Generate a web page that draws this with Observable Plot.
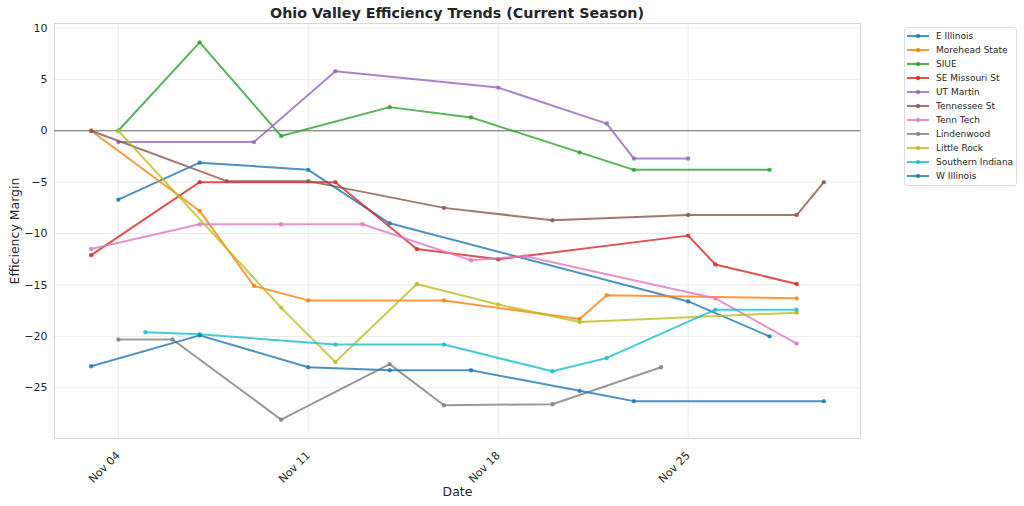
<!DOCTYPE html>
<html>
<head>
<meta charset="utf-8">
<script src="https://cdn.jsdelivr.net/npm/d3@7"></script>
<script src="https://cdn.jsdelivr.net/npm/@observablehq/plot@0.6"></script>
<style>
  body { margin: 0; background: #fff; font-family: "DejaVu Sans", sans-serif; }
  #wrap { position: relative; width: 1024px; height: 506px; }
  #title { position: absolute; left: 54px; width: 806px; top: 5px; text-align: center; font-weight: bold; font-size: 14.3px; color: #262626; }
  #legend { position: absolute; left: 904px; top: 27px; width: 111px; border: 1px solid #dcdcdc; border-radius: 3px; padding: 1px 0 2px 0; background: #fff; }
  .item { height: 14px; display: flex; align-items: center; font-size: 9px; color: #262626; white-space: nowrap; }
  .item svg { margin-left: 2px; margin-right: 7px; }
  g[aria-label="x-axis label"] text, g[aria-label="y-axis label"] text { font-size: 12.5px; }
</style>
</head>
<body>
<div id="wrap">
  <div id="title">Ohio Valley Efficiency Trends (Current Season)</div>
  <div id="chart"></div>
  <div id="legend"></div>
</div>
<script>
// Teams and colours (matplotlib tab10 cycle)
const teams = ["E Illinois", "Morehead State", "SIUE", "SE Missouri St", "UT Martin", "Tennessee St",
               "Tenn Tech", "Lindenwood", "Little Rock", "Southern Indiana", "W Illinois"];
const teamColors = ["#1f77b4", "#ff7f0e", "#2ca02c", "#d62728", "#9467bd", "#8c564b",
                    "#e377c2", "#7f7f7f", "#bcbd22", "#17becf", "#1f77b4"];

// Series: game dates and efficiency margins
const eIllinoisDates = ["2024-11-04", "2024-11-07", "2024-11-11", "2024-11-14", "2024-11-25", "2024-11-28"];
const eIllinoisValues = [-6.7, -3.1, -3.8, -9.0, -16.6, -20.0];

const moreheadDates = ["2024-11-03", "2024-11-07", "2024-11-09", "2024-11-11", "2024-11-16", "2024-11-21", "2024-11-22", "2024-11-29"];
const moreheadValues = [0, -7.8, -15.1, -16.5, -16.5, -18.3, -16.0, -16.3];

const siueDates = ["2024-11-04", "2024-11-07", "2024-11-10", "2024-11-14", "2024-11-17", "2024-11-21", "2024-11-23", "2024-11-28"];
const siueValues = [0, 8.6, -0.5, 2.3, 1.3, -2.1, -3.8, -3.8];

const semoDates = ["2024-11-03", "2024-11-07", "2024-11-12", "2024-11-15", "2024-11-18", "2024-11-25", "2024-11-26", "2024-11-29"];
const semoValues = [-12.1, -5.0, -5.0, -11.5, -12.5, -10.2, -13.0, -14.9];

const utMartinDates = ["2024-11-04", "2024-11-09", "2024-11-12", "2024-11-18", "2024-11-22", "2024-11-23", "2024-11-25"];
const utMartinValues = [-1.1, -1.1, 5.8, 4.2, 0.7, -2.7, -2.7];

const tennStDates = ["2024-11-03", "2024-11-08", "2024-11-11", "2024-11-16", "2024-11-20", "2024-11-25", "2024-11-29", "2024-11-30"];
const tennStValues = [0, -4.9, -4.9, -7.5, -8.7, -8.2, -8.2, -5.0];

const tennTechDates = ["2024-11-03", "2024-11-07", "2024-11-10", "2024-11-13", "2024-11-17", "2024-11-19", "2024-11-26", "2024-11-29"];
const tennTechValues = [-11.5, -9.1, -9.1, -9.1, -12.6, -12.2, -16.3, -20.7];

const lindenwoodDates = ["2024-11-04", "2024-11-06", "2024-11-10", "2024-11-14", "2024-11-16", "2024-11-20", "2024-11-24"];
const lindenwoodValues = [-20.3, -20.3, -28.1, -22.7, -26.7, -26.6, -23.0];

const littleRockDates = ["2024-11-04", "2024-11-10", "2024-11-12", "2024-11-15", "2024-11-18", "2024-11-21", "2024-11-29"];
const littleRockValues = [0, -17.2, -22.5, -14.9, -16.9, -18.6, -17.7];

const southernIndianaDates = ["2024-11-05", "2024-11-07", "2024-11-12", "2024-11-16", "2024-11-20", "2024-11-22", "2024-11-26", "2024-11-29"];
const southernIndianaValues = [-19.6, -19.8, -20.8, -20.8, -23.4, -22.1, -17.4, -17.4];

const wIllinoisDates = ["2024-11-03", "2024-11-07", "2024-11-11", "2024-11-14", "2024-11-17", "2024-11-21", "2024-11-23", "2024-11-30"];
const wIllinoisValues = [-22.9, -19.9, -23.0, -23.3, -23.3, -25.3, -26.3, -26.3];

// Axis ticks
const xTickDates = ["2024-11-04", "2024-11-11", "2024-11-18", "2024-11-25"];
const yTickValues = [-25, -20, -15, -10, -5, 0, 5, 10];

const seriesDates = [eIllinoisDates, moreheadDates, siueDates, semoDates, utMartinDates, tennStDates,
                     tennTechDates, lindenwoodDates, littleRockDates, southernIndianaDates, wIllinoisDates];
const seriesValues = [eIllinoisValues, moreheadValues, siueValues, semoValues, utMartinValues, tennStValues,
                      tennTechValues, lindenwoodValues, littleRockValues, southernIndianaValues, wIllinoisValues];

const parse = d3.utcParse("%Y-%m-%d");
const rows = teams.map((team, i) => seriesDates[i].map((d, j) => ({team, date: parse(d), value: seriesValues[i][j]})));
const xTicks = xTickDates.map(parse);

// matplotlib-style 5% margins
const allDates = rows.flat().map(r => r.date);
const allVals = rows.flat().map(r => r.value);
const [d0, d1] = d3.extent(allDates);
const [v0, v1] = d3.extent(allVals);
const dPad = (d1 - d0) * 0.05, vPad = (v1 - v0) * 0.05;

const chart = Plot.plot({
  width: 1024,
  height: 506,
  marginTop: 23,
  marginBottom: 68,
  marginLeft: 54,
  marginRight: 164,
  style: {fontFamily: "DejaVu Sans", fontSize: "11px", color: "#262626", background: "transparent"},
  x: {type: "utc", domain: [new Date(+d0 - dPad), new Date(+d1 + dPad)]},
  y: {domain: [v0 - vPad, v1 + vPad]},
  color: {domain: teams, range: teamColors},
  marks: [
    Plot.gridX(xTicks, {stroke: "#ebebeb", strokeOpacity: 1}),
    Plot.gridY(yTickValues, {stroke: "#ebebeb", strokeOpacity: 1}),
    Plot.frame({stroke: "#d6d6d6"}),
    Plot.ruleY([0], {stroke: "#333", strokeOpacity: 0.7, strokeWidth: 1}),
    ...rows.flatMap(data => [
      Plot.line(data, {x: "date", y: "value", stroke: "team", strokeWidth: 2, strokeOpacity: 0.8}),
      Plot.dot(data, {x: "date", y: "value", fill: "team", r: 2.2, fillOpacity: 0.8})
    ]),
    Plot.axisX(xTicks, {tickFormat: d3.utcFormat("%b %d"), tickRotate: -45, tickSize: 0, tickPadding: 15,
      label: "Date", labelAnchor: "center", labelArrow: "none", labelOffset: 57, fontSize: 11}),
    Plot.axisY(yTickValues, {tickSize: 0, tickPadding: 7,
      label: "Efficiency Margin", labelAnchor: "center", labelArrow: "none", labelOffset: 44})
  ]
});
document.getElementById("chart").appendChild(chart);

// Legend
const legend = document.getElementById("legend");
teams.forEach((t, i) => {
  const div = document.createElement("div");
  div.className = "item";
  div.innerHTML = `<svg width="22" height="10"><line x1="0" y1="5" x2="22" y2="5" stroke="${teamColors[i]}" stroke-width="2" stroke-opacity="0.8"/><circle cx="11" cy="5" r="2.2" fill="${teamColors[i]}" fill-opacity="0.8"/></svg><span>${t}</span>`;
  legend.appendChild(div);
});
</script>
</body>
</html>
